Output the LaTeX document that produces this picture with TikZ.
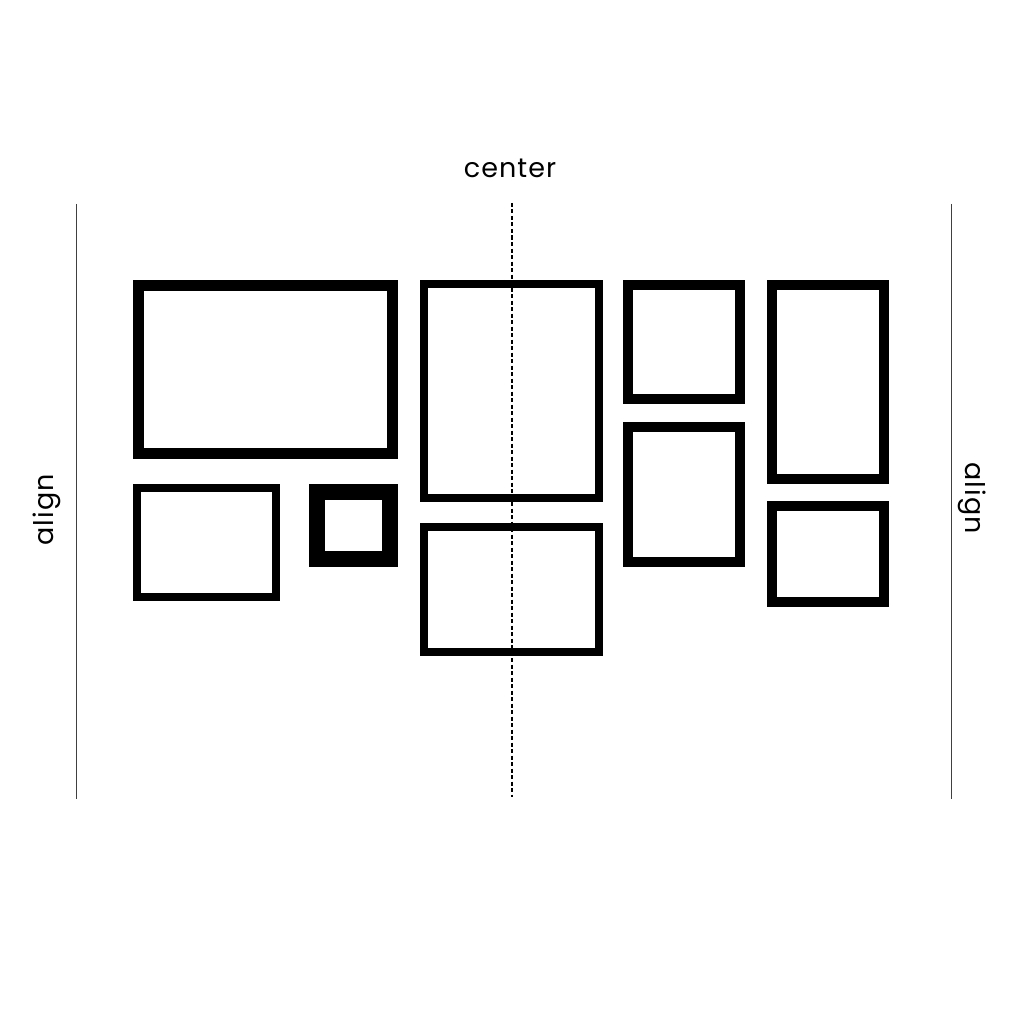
\documentclass[tikz,border=0pt]{standalone}
\usepackage{fontspec}
\setmainfont{Poppins}[LetterSpace=4]
\begin{document}
\begin{tikzpicture}[x=1pt,y=-1pt,
  frame/.style={draw=black,line width=#1},
  guide/.style={draw=black!75,line width=1pt},
  lbl/.style={font=\fontsize{27}{32}\selectfont,inner sep=0pt}]
\useasboundingbox[fill=white] (0,0) rectangle (1024,1024);
% guide lines
\coordinate (lt) at (76,204); \coordinate (lb) at (76,799);
\coordinate (rt) at (951,204); \coordinate (rb) at (951,799);
\coordinate (ct) at (512,203); \coordinate (cb) at (512,797);
\draw[guide] (lt) -- (lb);
\draw[guide] (rt) -- (rb);
% frames
\draw[frame=11pt] (138.5,285.5) rectangle (392.5,453.5);
\draw[frame=8pt] (137,488) rectangle (276,597);
\draw[frame=16pt] (317,492) rectangle (390,559);
\draw[frame=8pt] (424,284) rectangle (599,498);
\draw[frame=8pt] (424,527) rectangle (599,652);
\draw[frame=10pt] (628,285) rectangle (740,399);
\draw[frame=10pt] (628,427) rectangle (740,562);
\draw[frame=10pt] (772,285) rectangle (884,479);
\draw[frame=10pt] (772,506) rectangle (884,602);
% center dashed line
\draw[line width=1.4pt,dash pattern=on 4pt off 2.5pt] (ct) -- (cb);
% labels
\node[lbl] (center) at (510,168) {center};
\node[lbl,rotate=90] (alignL) at (47,510) {align};
\node[lbl,rotate=-90] (alignR) at (972,498) {align};
\end{tikzpicture}
\end{document}
